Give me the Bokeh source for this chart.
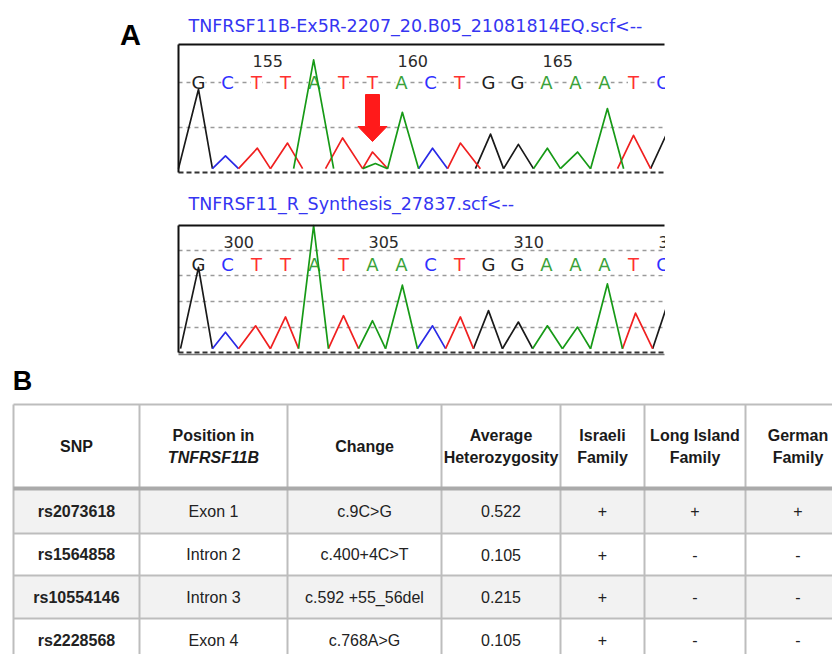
import numpy as np
from bokeh.plotting import figure
from bokeh.models import Range1d
from bokeh.core.properties import value
from bokeh.embed import file_html
from bokeh.resources import INLINE

# ---------------- DATA ----------------
# Panel A, upper chromatogram (patient)
top_title = "TNFRSF11B-Ex5R-2207_20.B05_21081814EQ.scf<--"
top_first_pos = 153
top_bases = list("GCTTATTACTGGAAATC")
top_ticks = [155, 160, 165]
top_peak_channel = ["G", "C", "T", "T", "A", "T", "T", "A", "A", "C", "T", "G", "G", "A", "A", "A", "T", "G"]
top_peak_left = [152.31, 153.48, 154.38, 155.48, 156.28, 157.38, 158.66, 158.66, 159.52, 160.59, 161.59, 162.55, 163.52, 164.55, 165.48, 166.52, 167.45, 168.59]
top_peak_apex = [153.00, 153.93, 155.03, 156.07, 156.97, 157.97, 159.00, 159.10, 160.03, 161.07, 162.03, 163.07, 164.03, 165.03, 166.07, 167.10, 168.00, 169.20]
top_peak_right = [153.48, 154.38, 155.48, 156.59, 157.66, 158.66, 159.52, 159.52, 160.59, 161.59, 162.72, 163.52, 164.55, 165.48, 166.52, 167.66, 168.59, 169.80]
top_peak_height = [65, 13, 19, 23, 88, 27, 16, 7, 47, 19, 23, 30, 22, 19, 16, 50, 29, 33]
arrow_pos = 159

# Panel A, lower chromatogram (reference synthesis)
bot_title = "TNFRSF11_R_Synthesis_27837.scf<--"
bot_first_pos = 299
bot_bases = list("GCTTATAACTGGAAATC")
bot_ticks = [300, 305, 310, 315]
bot_peak_channel = ["G", "C", "T", "T", "A", "T", "A", "A", "C", "T", "G", "G", "A", "A", "A", "T", "G"]
bot_peak_left = [298.38, 299.48, 300.38, 301.48, 302.45, 303.48, 304.52, 305.45, 306.55, 307.52, 308.48, 309.48, 310.52, 311.55, 312.52, 313.62, 314.66]
bot_peak_apex = [299.00, 299.93, 300.97, 302.00, 302.97, 304.00, 305.00, 306.03, 307.07, 308.03, 309.00, 310.03, 311.03, 312.07, 313.10, 314.07, 315.20]
bot_peak_right = [299.48, 300.38, 301.48, 302.45, 303.48, 304.52, 305.45, 306.55, 307.52, 308.48, 309.48, 310.52, 311.55, 312.52, 313.62, 314.66, 315.80]
bot_peak_height = [67, 16, 21, 28, 100, 29, 25, 53, 21, 28, 33, 24, 21, 20, 54, 31, 40]

# Panel B, table
header_lines = [["SNP"], ["Position in", "TNFRSF11B"], ["Change"], ["Average", "Heterozygosity"],
                ["Israeli", "Family"], ["Long Island", "Family"], ["German", "Family"]]
snp = ["rs2073618", "rs1564858", "rs10554146", "rs2228568"]
position = ["Exon 1", "Intron 2", "Intron 3", "Exon 4"]
change = ["c.9C>G", "c.400+4C>T", "c.592 +55_56del", "c.768A>G"]
heterozygosity = [0.522, 0.105, 0.215, 0.105]
israeli = ["+", "+", "+", "+"]
long_island = ["+", "-", "-", "-"]
german = ["+", "-", "-", "-"]

# ---------------- STYLE / LAYOUT ----------------
TRACE_COL = {"G": "#1a1a1a", "C": "#2a2ae6", "T": "#f02020", "A": "#179a17"}
LETTER_COL = {"G": "#222222", "C": "#3030ff", "T": "#ff3030", "A": "#3aa23a"}
TITLE_COL = "#3535f2"
CHROMO_FONT = value("DejaVu Sans")
TABLE_FONT = value("Liberation Sans")
FOOT = 3

PANEL_LEFT, PANEL_RIGHT = 178, 664
STEP, FIRST_X = 29.0, 198.0
panels = {
    "top": dict(title=top_title, first=top_first_pos, bases=top_bases, ticks=top_ticks,
                ch=top_peak_channel, l=top_peak_left, a=top_peak_apex, r=top_peak_right, h=top_peak_height,
                top=44, base=172, letters=82, tick_y=60, title_y=25, grid=[82, 127], floor=[]),
    "bot": dict(title=bot_title, first=bot_first_pos, bases=bot_bases, ticks=bot_ticks,
                ch=bot_peak_channel, l=bot_peak_left, a=bot_peak_apex, r=bot_peak_right, h=bot_peak_height,
                top=225, base=352, letters=264, tick_y=241, title_y=203, grid=[250, 275, 301, 327], floor=[354]),
}

X0, X1, Y0, Y1 = 0, 832, 654, 0
p = figure(width=832, height=654, output_backend="svg", toolbar_location=None,
           x_range=Range1d(X0, X1), y_range=Range1d(Y0, Y1), min_border=0,
           x_axis_location=None, y_axis_location=None)
p.grid.visible = False
p.outline_line_color = None
p.background_fill_color = "white"
p.border_fill_color = "white"

extra_x, extra_y = {}, {}
for key, P in panels.items():
    extra_x[key + "_x"] = Range1d(P["first"] - (FIRST_X - X0) / STEP, P["first"] + (X1 - FIRST_X) / STEP)
    sc = (P["base"] - P["top"]) / 100.0
    extra_y[key + "_y"] = Range1d((P["base"] - Y0) / sc, (P["base"] - Y1) / sc)
p.extra_x_ranges = extra_x
p.extra_y_ranges = extra_y

for key, P in panels.items():
    xr, yr = key + "_x", key + "_y"
    # dashed grid
    p.segment(x0=[PANEL_LEFT] * len(P["grid"]), x1=[PANEL_RIGHT] * len(P["grid"]), y0=P["grid"], y1=P["grid"],
              line_color="#9a9a9a", line_width=1.5, line_dash="4 4")
    # base letters (white box interrupts the dashed line, traces drawn on top)
    pos = [P["first"] + i for i in range(len(P["bases"]))]
    p.text(x=pos, y=[P["letters"]] * len(pos), text=P["bases"], x_range_name=xr,
           text_color=[LETTER_COL[b] for b in P["bases"]], text_font=CHROMO_FONT, text_font_size="18px",
           text_align="center", text_baseline="middle", background_fill_color="white")
    # traces
    for chn in "GCTA":
        idx = [i for i, c in enumerate(P["ch"]) if c == chn]
        xs = [[P["l"][i], P["a"][i], P["r"][i]] for i in idx]
        ys = [[FOOT, P["h"][i], FOOT] for i in idx]
        p.multi_line(xs=xs, ys=ys, line_color=TRACE_COL[chn], line_width=1.7,
                     x_range_name=xr, y_range_name=yr, line_join="round")
    # baseline
    p.segment(x0=[PANEL_LEFT], x1=[PANEL_RIGHT], y0=[P["base"]], y1=[P["base"]],
              line_color="#333333", line_width=2.2, line_dash="5 3")
    for fy in P["floor"]:
        p.segment(x0=[PANEL_LEFT], x1=[PANEL_RIGHT], y0=[fy], y1=[fy], line_color="#777777", line_width=1.5)
    # borders
    p.segment(x0=[PANEL_LEFT, PANEL_LEFT], x1=[PANEL_RIGHT, PANEL_LEFT], y0=[P["top"], P["top"]], y1=[P["top"], P["base"]],
              line_color="#111111", line_width=2)
    # position numbers
    p.text(x=P["ticks"], y=[P["tick_y"]] * len(P["ticks"]), text=[str(t) for t in P["ticks"]], x_range_name=xr,
           x_offset=-4, text_color="#2a2a2a", text_font=CHROMO_FONT, text_font_size="16px",
           text_align="left", text_baseline="middle")
    # title
    p.text(x=[188], y=[P["title_y"]], text=[P["title"]], text_color=TITLE_COL, text_font=CHROMO_FONT,
           text_font_size="17.5px", text_align="left", text_baseline="middle")

# mask the panels' cut-off right side
p.quad(left=[PANEL_RIGHT + 0.5], right=[X1 + 10], top=[36], bottom=[362], fill_color="white", line_color=None)

# red arrow at the variant position
ax = arrow_pos + np.array([-7, 7, 7, 14.5, 0, -14.5, -7]) / STEP
ay = [94, 94, 126, 126, 141, 126, 126]
p.patch(x=ax, y=ay, x_range_name="top_x", fill_color="#ff1a1a", line_color="#ff1a1a", line_width=1)

# panel labels
p.text(x=[130], y=[34], text=["A"], text_font=TABLE_FONT, text_font_style="bold", text_font_size="29px",
       text_align="center", text_baseline="middle", text_color="black")
p.text(x=[22], y=[380], text=["B"], text_font=TABLE_FONT, text_font_style="bold", text_font_size="27px",
       text_align="center", text_baseline="middle", text_color="black")

# ---------------- TABLE ----------------
col_edges = [13, 139, 287, 441, 560, 644, 745, 850]
head_top, head_bot = 404, 488
row_h = [45, 42, 43, 43]
row_edges = [head_bot]
for h in row_h:
    row_edges.append(row_edges[-1] + h)
centers = [(col_edges[i] + col_edges[i + 1]) / 2 for i in range(len(col_edges) - 1)]

# shaded rows
shade = [i for i in range(len(snp)) if i % 2 == 0]
p.quad(left=[col_edges[0]] * len(shade), right=[col_edges[-1]] * len(shade),
       top=[row_edges[i] for i in shade], bottom=[row_edges[i + 1] for i in shade],
       fill_color="#f2f2f2", line_color=None)

# grid lines
hy = [head_top] + row_edges[1:]
p.segment(x0=[col_edges[0]] * len(hy), x1=[col_edges[-1]] * len(hy), y0=hy, y1=hy, line_color="#bdbdbd", line_width=2)
p.segment(x0=col_edges, x1=col_edges, y0=[head_top] * len(col_edges), y1=[row_edges[-1]] * len(col_edges),
          line_color="#bdbdbd", line_width=2)
p.segment(x0=[col_edges[0]], x1=[col_edges[-1]], y0=[head_bot], y1=[head_bot], line_color="#aaaaaa", line_width=4)

# header
hc = (head_top + head_bot) / 2
for ci, lines in enumerate(header_lines):
    n = len(lines)
    for li, t in enumerate(lines):
        y = hc + (li - (n - 1) / 2) * 22
        style = "bold italic" if (ci == 1 and li == 1) else "bold"
        p.text(x=[centers[ci]], y=[y], text=[t], text_font=TABLE_FONT, text_font_style=style,
               text_font_size="16px", text_align="center", text_baseline="middle", text_color="#1a1a1a")

# body
cols = [snp, position, change, ["%.3f" % v for v in heterozygosity], israeli, long_island, german]
ry = [(row_edges[i] + row_edges[i + 1]) / 2 for i in range(len(snp))]
for ci, col in enumerate(cols):
    p.text(x=[centers[ci]] * len(col), y=ry, text=col, text_font=TABLE_FONT,
           text_font_style="bold" if ci == 0 else "normal", text_font_size="16px",
           text_align="center", text_baseline="middle", text_color="#222222")

open("out.html", "w").write(file_html(p, INLINE))
